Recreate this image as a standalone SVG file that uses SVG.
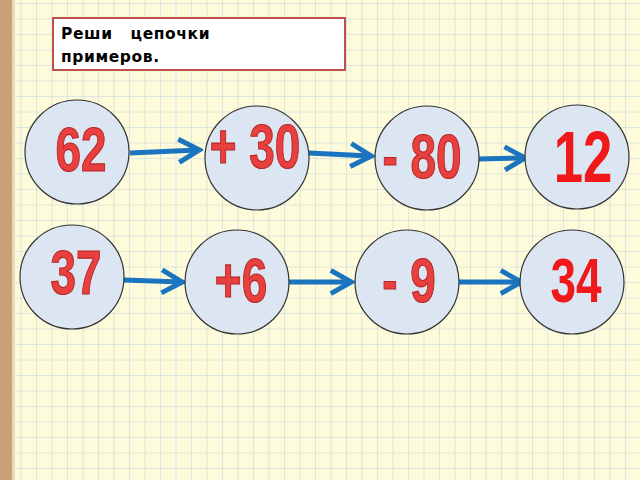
<svg xmlns="http://www.w3.org/2000/svg" width="640" height="480" viewBox="0 0 640 480">
<defs>
<pattern id="grid" width="15.5" height="15.5" patternUnits="userSpaceOnUse" x="6" y="4">
<path d="M15.5 0V15.5M0 15.5H15.5" fill="none" stroke="#bcd3e6" stroke-width="1"/>
</pattern>
<marker id="chev" viewBox="0 0 10 10" refX="8" refY="5" markerWidth="5.5" markerHeight="5.5" orient="auto" markerUnits="strokeWidth">
<path d="M1 0.8L8.5 5L1 9.2" fill="none" stroke="#1b74bf" stroke-width="1.8"/>
</marker>
</defs>
<style>
.c{fill:#dce6f2;stroke:#333;stroke-width:1.2}
.n{font-family:"Liberation Sans",Arial,sans-serif;font-weight:bold;font-size:54px;fill:#e8403f;stroke:#b52525;stroke-width:1;text-anchor:middle}
.a{fill:none;stroke:#1b74bf;stroke-width:5;marker-end:url(#chev)}
</style>
<rect width="640" height="480" fill="#fdfbd9"/>
<rect width="640" height="480" fill="url(#grid)"/>
<rect width="12" height="480" fill="#c9a27a"/>
<rect x="12" width="3" height="480" fill="#e8d9b8"/>
<g id="title">
<rect x="53" y="18" width="292" height="52" fill="#fff" stroke="#c0504d" stroke-width="2"/>
<text x="61" y="39" font-family="'DejaVu Sans',sans-serif" font-weight="bold" font-size="15.5" letter-spacing="0.6" fill="#000" xml:space="preserve">Реши   цепочки</text>
<text x="61" y="62" font-family="'DejaVu Sans',sans-serif" font-weight="bold" font-size="15.5" letter-spacing="0.6" fill="#000">примеров.</text>
</g>
<g id="connectors">
<path class="a" d="M130 153L198 150"/>
<path class="a" d="M309 153L370 156"/>
<path class="a" d="M478 159L524 158"/>
<path class="a" d="M124 280L181 282"/>
<path class="a" d="M283 282L350 282"/>
<path class="a" d="M453 282L520 282"/>
</g>
<g id="n62"><circle class="c" cx="77" cy="152" r="52"/><text class="n" transform="translate(81 171) scale(0.85 1.15)">62</text></g>
<g id="n30"><circle class="c" cx="257" cy="158" r="52"/><text class="n" transform="translate(255 168) scale(0.85 1.15)">+ 30</text></g>
<g id="n80"><circle class="c" cx="427" cy="158" r="52"/><text class="n" transform="translate(422 178) scale(0.85 1.15)">- 80</text></g>
<g id="n12"><circle class="c" cx="577" cy="157" r="52"/><text class="n" transform="translate(583 182) scale(0.85 1.15)" style="font-size:62px;fill:#f01818;stroke:none">12</text></g>
<g id="n37"><circle class="c" cx="72" cy="277" r="52"/><text class="n" transform="translate(76 294) scale(0.85 1.15)">37</text></g>
<g id="n6"><circle class="c" cx="237" cy="282" r="52"/><text class="n" transform="translate(241 302) scale(0.85 1.15)">+6</text></g>
<g id="n9"><circle class="c" cx="407" cy="282" r="52"/><text class="n" transform="translate(409 302) scale(0.85 1.15)">- 9</text></g>
<g id="n34"><circle class="c" cx="572" cy="282" r="52"/><text class="n" transform="translate(576 302) scale(0.85 1.15)" style="fill:#f01818;stroke:none">34</text></g>
</svg>
